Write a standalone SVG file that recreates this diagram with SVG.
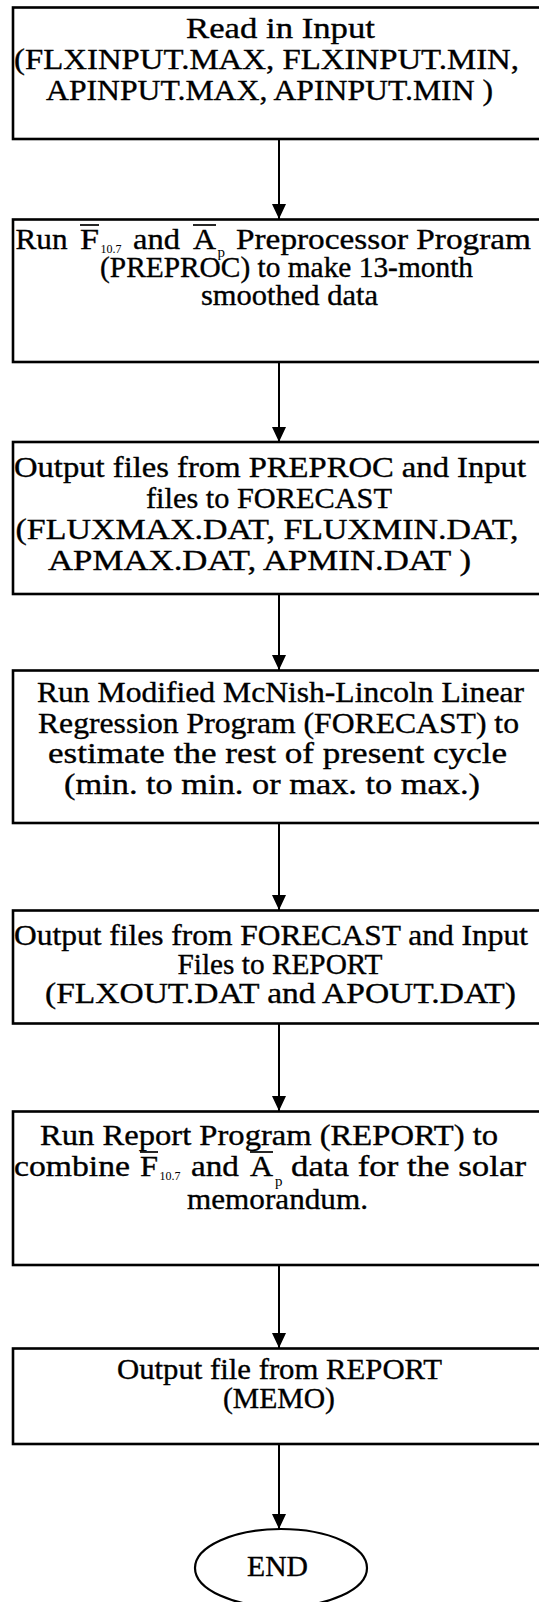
<svg xmlns="http://www.w3.org/2000/svg" width="539" height="1602" viewBox="0 0 539 1602">
  <style>
    .box { fill: #ffffff; stroke: #000000; stroke-width: 2.6; }
    .term { fill: #ffffff; stroke: #000000; stroke-width: 2.2; }
    .lbl { font-family: "Liberation Serif", "Times New Roman", serif; font-size: 30px; fill: #000000; stroke: #000000; stroke-width: 0.35; }
    .c { text-anchor: middle; }
    .sub { font-family: "Liberation Serif", "Times New Roman", serif; font-size: 12px; fill: #000000; }
    .subp { font-family: "Liberation Serif", "Times New Roman", serif; font-size: 15px; fill: #000000; }
    .bar { stroke: #000000; stroke-width: 1.7; }
    .edge { stroke: #000000; stroke-width: 2; fill: none; marker-end: url(#arrow); }
  </style>
  <defs>
    <marker id="arrow" markerUnits="userSpaceOnUse" markerWidth="16" markerHeight="16" viewBox="0 0 16 16" refX="15" refY="8" orient="auto">
      <path d="M0,1 L15,8 L0,15 Z" fill="#000000"/>
    </marker>
  </defs>
  <rect width="539" height="1602" fill="#ffffff"/>

  <!-- connectors -->
  <g id="connectors">
    <line class="edge" x1="279" y1="139" x2="279" y2="219"/>
    <line class="edge" x1="279" y1="362" x2="279" y2="442"/>
    <line class="edge" x1="279" y1="594" x2="279" y2="670"/>
    <line class="edge" x1="279" y1="823" x2="279" y2="910"/>
    <line class="edge" x1="279" y1="1023" x2="279" y2="1111"/>
    <line class="edge" x1="279" y1="1265" x2="279" y2="1348"/>
    <line class="edge" x1="279" y1="1444" x2="279" y2="1529"/>
  </g>

  <!-- read input -->
  <g id="read-input">
    <rect class="box" x="13" y="7.5" width="540" height="131.5"/>
    <text class="lbl c" x="280.5" y="38" textLength="189" lengthAdjust="spacingAndGlyphs">Read in Input</text>
    <text class="lbl c" x="266.5" y="69" textLength="505" lengthAdjust="spacingAndGlyphs">(FLXINPUT.MAX, FLXINPUT.MIN,</text>
    <text class="lbl c" x="269.5" y="100" textLength="447" lengthAdjust="spacingAndGlyphs">APINPUT.MAX, APINPUT.MIN )</text>
  </g>

  <!-- preprocessor -->
  <g id="preproc">
    <rect class="box" x="13" y="219.5" width="540" height="142.5"/>
    <text class="lbl" x="15.5" y="249" textLength="52" lengthAdjust="spacingAndGlyphs">Run</text>
    <text class="lbl" x="80" y="249" textLength="19" lengthAdjust="spacingAndGlyphs">F</text>
    <line class="bar" x1="80" y1="225" x2="99" y2="225"/>
    <text class="sub" x="100.5" y="253">10.7</text>
    <text class="lbl" x="133" y="249" textLength="47" lengthAdjust="spacingAndGlyphs">and</text>
    <text class="lbl" x="193" y="249" textLength="23" lengthAdjust="spacingAndGlyphs">A</text>
    <line class="bar" x1="193" y1="225" x2="216" y2="225"/>
    <text class="subp" x="217.5" y="257">p</text>
    <text class="lbl" x="236" y="249" textLength="295" lengthAdjust="spacingAndGlyphs">Preprocessor Program</text>
    <text class="lbl c" x="286.5" y="277" textLength="373" lengthAdjust="spacingAndGlyphs">(PREPROC) to make 13-month</text>
    <text class="lbl c" x="289.5" y="305" textLength="177" lengthAdjust="spacingAndGlyphs">smoothed data</text>
  </g>

  <!-- files to forecast -->
  <g id="files-to-forecast">
    <rect class="box" x="13" y="442" width="540" height="152"/>
    <text class="lbl c" x="270" y="477" textLength="512" lengthAdjust="spacingAndGlyphs">Output files from PREPROC and Input</text>
    <text class="lbl c" x="269" y="508" textLength="246" lengthAdjust="spacingAndGlyphs">files to FORECAST</text>
    <text class="lbl c" x="267" y="539" textLength="503" lengthAdjust="spacingAndGlyphs">(FLUXMAX.DAT, FLUXMIN.DAT,</text>
    <text class="lbl c" x="259.5" y="570" textLength="423" lengthAdjust="spacingAndGlyphs">APMAX.DAT, APMIN.DAT )</text>
  </g>

  <!-- forecast -->
  <g id="forecast">
    <rect class="box" x="13" y="670.5" width="540" height="152.5"/>
    <text class="lbl c" x="280.5" y="702" textLength="487" lengthAdjust="spacingAndGlyphs">Run Modified McNish-Lincoln Linear</text>
    <text class="lbl c" x="278.5" y="733" textLength="481" lengthAdjust="spacingAndGlyphs">Regression Program (FORECAST) to</text>
    <text class="lbl c" x="277.5" y="763" textLength="459" lengthAdjust="spacingAndGlyphs">estimate the rest of present cycle</text>
    <text class="lbl c" x="272" y="794" textLength="416" lengthAdjust="spacingAndGlyphs">(min. to min. or max. to max.)</text>
  </g>

  <!-- files to report -->
  <g id="files-to-report">
    <rect class="box" x="13" y="910.5" width="540" height="113"/>
    <text class="lbl c" x="271" y="945" textLength="514" lengthAdjust="spacingAndGlyphs">Output files from FORECAST and Input</text>
    <text class="lbl c" x="280" y="974" textLength="205" lengthAdjust="spacingAndGlyphs">Files to REPORT</text>
    <text class="lbl c" x="280.5" y="1003" textLength="471" lengthAdjust="spacingAndGlyphs">(FLXOUT.DAT and APOUT.DAT)</text>
  </g>

  <!-- report -->
  <g id="report">
    <rect class="box" x="13" y="1111.5" width="540" height="153.5"/>
    <text class="lbl c" x="269" y="1145" textLength="458" lengthAdjust="spacingAndGlyphs">Run Report Program (REPORT) to</text>
    <text class="lbl" x="14" y="1176" textLength="116" lengthAdjust="spacingAndGlyphs">combine</text>
    <text class="lbl" x="140" y="1176" textLength="18" lengthAdjust="spacingAndGlyphs">F</text>
    <line class="bar" x1="140" y1="1152" x2="158" y2="1152"/>
    <text class="sub" x="159.5" y="1180">10.7</text>
    <text class="lbl" x="191" y="1176" textLength="48" lengthAdjust="spacingAndGlyphs">and</text>
    <text class="lbl" x="250" y="1176" textLength="23" lengthAdjust="spacingAndGlyphs">A</text>
    <line class="bar" x1="250" y1="1152" x2="273" y2="1152"/>
    <text class="subp" x="275" y="1186">p</text>
    <text class="lbl" x="291" y="1176" textLength="235" lengthAdjust="spacingAndGlyphs">data for the solar</text>
    <text class="lbl c" x="277.5" y="1209" textLength="181" lengthAdjust="spacingAndGlyphs">memorandum.</text>
  </g>

  <!-- memo output -->
  <g id="memo">
    <rect class="box" x="13" y="1348.5" width="540" height="95.5"/>
    <text class="lbl c" x="279.5" y="1379" textLength="325" lengthAdjust="spacingAndGlyphs">Output file from REPORT</text>
    <text class="lbl c" x="279" y="1408" textLength="112" lengthAdjust="spacingAndGlyphs">(MEMO)</text>
  </g>

  <!-- end terminal -->
  <g id="end">
    <ellipse class="term" cx="281" cy="1568" rx="86" ry="39"/>
    <text class="lbl c" x="277.5" y="1576" textLength="61" lengthAdjust="spacingAndGlyphs">END</text>
  </g>
</svg>
